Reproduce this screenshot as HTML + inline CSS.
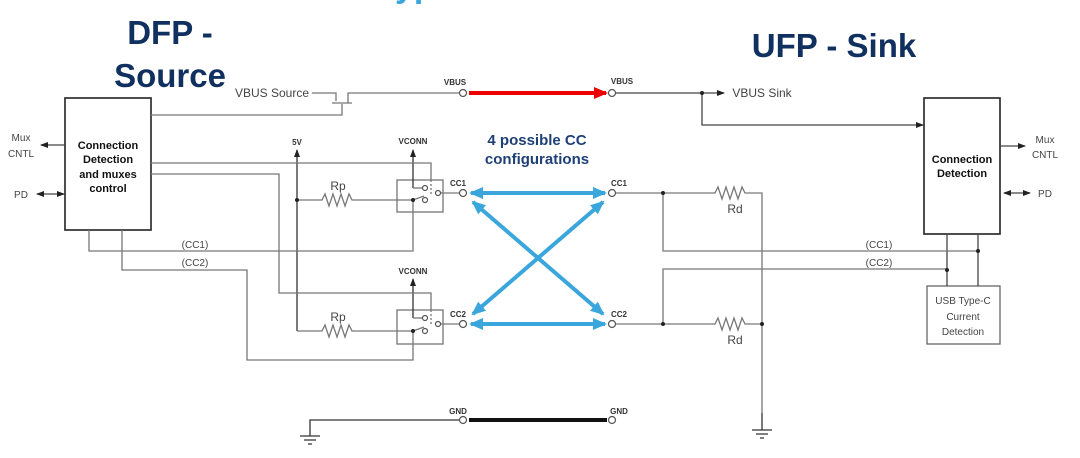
<!DOCTYPE html>
<html><head><meta charset="utf-8"><style>
html,body{margin:0;padding:0;background:#fff;width:1080px;height:458px;overflow:hidden}
svg{display:block;font-family:"Liberation Sans",sans-serif}
</style></head><body>
<svg width="1080" height="458" viewBox="0 0 1080 458" xmlns="http://www.w3.org/2000/svg">
<defs>
<marker id="a" markerWidth="8" markerHeight="6" refX="7" refY="3" orient="auto" markerUnits="userSpaceOnUse"><path d="M0,0L8,3L0,6z" fill="#222"/></marker>
<marker id="as" markerWidth="8" markerHeight="6" refX="1" refY="3" orient="auto" markerUnits="userSpaceOnUse"><path d="M8,0L0,3L8,6z" fill="#222"/></marker>
<marker id="b" markerWidth="14" markerHeight="12" refX="12" refY="6" orient="auto" markerUnits="userSpaceOnUse"><path d="M0,0L14,6L0,12z" fill="#3aa6dc"/></marker>
<marker id="bs" markerWidth="14" markerHeight="12" refX="2" refY="6" orient="auto" markerUnits="userSpaceOnUse"><path d="M14,0L0,6L14,12z" fill="#3aa6dc"/></marker>
<marker id="r" markerWidth="14" markerHeight="12" refX="12" refY="6" orient="auto" markerUnits="userSpaceOnUse"><path d="M0,0L14,6L0,12z" fill="#e00"/></marker>
</defs>
<text x="395" y="-3" font-size="34" font-weight="bold" fill="#3aa6dc">yp</text>
<g font-weight="bold" fill="#10305f" text-anchor="middle" font-size="33">
<text x="170" y="44">DFP -</text><text x="170" y="87">Source</text><text x="834" y="57">UFP - Sink</text></g>
<g font-weight="bold" fill="#1f3f77" text-anchor="middle" font-size="15"><text x="537" y="145">4 possible CC</text><text x="537" y="164">configurations</text></g>
<g fill="none" stroke="#777" stroke-width="1.3">
<rect x="65" y="98" width="86" height="132" stroke="#222" stroke-width="1.6"/>
<rect x="924" y="98" width="76" height="136" stroke="#222" stroke-width="1.6"/>
<rect x="927" y="286" width="73" height="58" stroke="#666"/>
<path d="M312,93H336V101M332,103H352M348,103V93H459"/>
<path d="M151,115H342V104"/>
<path d="M616,93H702H724" marker-end="url(#a)" stroke="#444"/>
<path d="M702,93V125H923" marker-end="url(#a)" stroke="#444"/>
<path d="M65,145H41" marker-end="url(#a)" stroke="#444"/>
<path d="M37,194H64" marker-end="url(#a)" marker-start="url(#as)" stroke="#444"/>
<path d="M1000,146H1025" marker-end="url(#a)" stroke="#444"/>
<path d="M1004,193H1030" marker-end="url(#a)" marker-start="url(#as)" stroke="#444"/>
<path d="M947,234V286M978,234V286" stroke="#444"/>
<path d="M616,193H715l3,-6l4,12l4,-12l4,12l4,-12l4,12l4,-12l3,6H762V413"/>
<path d="M616,324H715l3,-6l4,12l4,-12l4,12l4,-12l4,12l4,-12l3,6H762"/>
<path d="M663,193V251H978M663,324V269H947"/>
<path d="M762,413V430M752,430H772M756,434H768M760,438H764" stroke="#333"/>
<path d="M459,420H310V436M300,436H320M304,440H316M308,444H312" stroke="#333"/>
<path d="M297,331V150" marker-end="url(#a)" stroke="#333"/>
<path d="M297,200H322l3,-6l4,12l4,-12l4,12l4,-12l4,12l4,-12l3,6H413L424,196"/>
<path d="M297,331H322l3,-6l4,12l4,-12l4,12l4,-12l4,12l4,-12l3,6H413L424,327"/>
<rect x="397" y="180" width="46" height="32"/><rect x="397" y="310" width="46" height="34"/>
<path d="M413,188V150" marker-end="url(#a)" stroke="#333"/><path d="M413,188H422"/>
<path d="M413,318V279" marker-end="url(#a)" stroke="#333"/><path d="M413,318H422"/>
<path d="M441,193H460M441,324H460"/>
<path d="M151,163H431V180M151,174H279V293H431V310"/>
<path d="M431,180V196M431,310V324" stroke-dasharray="2,2"/>
<path d="M413,200V251H89V230M122,230V270H247V360H413V331"/>
</g>
<g fill="#fff" stroke="#555" stroke-width="1.2">
<circle cx="463" cy="93" r="3.5"/><circle cx="612" cy="93" r="3.5"/>
<circle cx="463" cy="193" r="3.5"/><circle cx="612" cy="193" r="3.5"/>
<circle cx="463" cy="324" r="3.5"/><circle cx="612" cy="324" r="3.5"/>
<circle cx="463" cy="420" r="3.5"/><circle cx="612" cy="420" r="3.5"/>
<circle cx="425" cy="188" r="2.5"/><circle cx="425" cy="200" r="2.5"/><circle cx="438" cy="193" r="2.5"/>
<circle cx="425" cy="318" r="2.5"/><circle cx="425" cy="331" r="2.5"/><circle cx="438" cy="324" r="2.5"/>
</g>
<g fill="#222"><circle cx="702" cy="93" r="2"/><circle cx="663" cy="193" r="2"/><circle cx="663" cy="324" r="2"/><circle cx="762" cy="324" r="2"/><circle cx="978" cy="251" r="2"/><circle cx="947" cy="270" r="2"/><circle cx="297" cy="200" r="2"/><circle cx="413" cy="200" r="2"/><circle cx="413" cy="331" r="2"/></g>
<line x1="469" y1="93" x2="606" y2="93" stroke="#e00" stroke-width="4" marker-end="url(#r)"/>
<line x1="469" y1="420" x2="607" y2="420" stroke="#111" stroke-width="4"/>
<g stroke="#3aa6dc" stroke-width="4" marker-end="url(#b)" marker-start="url(#bs)">
<line x1="471" y1="193" x2="605" y2="193"/><line x1="471" y1="324" x2="605" y2="324"/>
<line x1="473" y1="314" x2="603" y2="202"/><line x1="473" y1="202" x2="603" y2="314"/></g>
<g font-size="11" font-weight="bold" fill="#111" text-anchor="middle">
<text x="108" y="149">Connection</text><text x="108" y="163">Detection</text><text x="108" y="178">and muxes</text><text x="108" y="192">control</text>
<text x="962" y="163">Connection</text><text x="962" y="177">Detection</text></g>
<g font-size="10" fill="#444" text-anchor="middle">
<text x="21" y="141">Mux</text><text x="21" y="157">CNTL</text><text x="21" y="198">PD</text>
<text x="1045" y="143">Mux</text><text x="1045" y="158">CNTL</text><text x="1045" y="197">PD</text>
<text x="963" y="304">USB Type-C</text><text x="963" y="320">Current</text><text x="963" y="335">Detection</text>
<text x="195" y="248">(CC1)</text><text x="195" y="266">(CC2)</text><text x="879" y="248">(CC1)</text><text x="879" y="266">(CC2)</text>
<text x="338" y="190" font-size="12">Rp</text><text x="338" y="321" font-size="12">Rp</text>
<text x="735" y="213" font-size="12">Rd</text><text x="735" y="344" font-size="12">Rd</text>
<text x="272" y="97" font-size="12">VBUS Source</text>
<text x="762" y="97" font-size="12">VBUS Sink</text></g>
<g font-size="8" font-weight="bold" fill="#333" text-anchor="middle">
<text x="455" y="85">VBUS</text><text x="622" y="84">VBUS</text>
<text x="458" y="186">CC1</text><text x="619" y="186">CC1</text><text x="458" y="317">CC2</text><text x="619" y="317">CC2</text>
<text x="458" y="414">GND</text><text x="619" y="414">GND</text>
<text x="297" y="145">5V</text><text x="413" y="144">VCONN</text><text x="413" y="274">VCONN</text></g>
</svg>
</body></html>
